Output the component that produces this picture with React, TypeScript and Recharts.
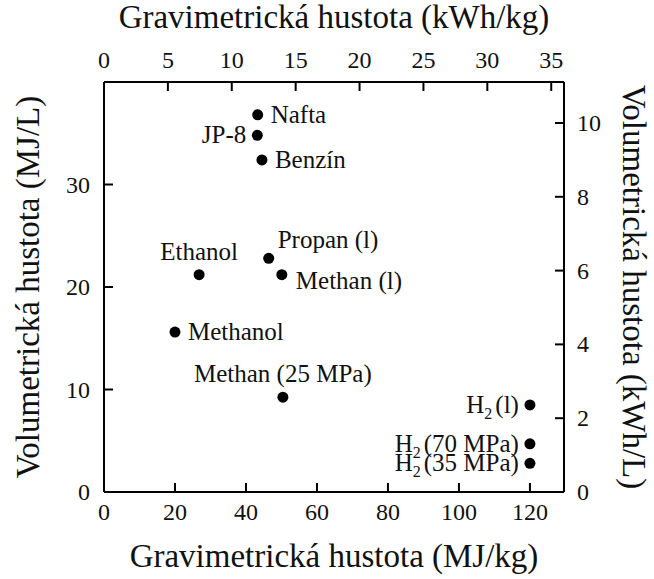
import React from "react";
import { ScatterChart, Scatter, XAxis, YAxis } from "recharts";

// fuels
const fuels = [
  "Nafta",
  "JP-8",
  "Benzín",
  "Propan (l)",
  "Ethanol",
  "Methan (l)",
  "Methanol",
  "Methan (25 MPa)",
  "H2 (l)",
  "H2 (70 MPa)",
  "H2 (35 MPa)",
];
const gravimetric = [43.3, 43.2, 44.5, 46.4, 26.8, 50.1, 20.0, 50.4, 120, 120, 120]; // MJ/kg
const volumetric = [36.8, 34.8, 32.4, 22.8, 21.2, 21.2, 15.6, 9.25, 8.5, 4.7, 2.8]; // MJ/L

// where each label sits relative to its dot
const labelSide = [
  "right",
  "left",
  "right",
  "aboveRight",
  "above",
  "belowRight",
  "right",
  "above",
  "left",
  "left",
  "left",
];

const bottomTicks = [0, 20, 40, 60, 80, 100, 120];
const topTicks = [0, 5, 10, 15, 20, 25, 30, 35];
const leftTicks = [0, 10, 20, 30];
const rightTicks = [0, 2, 4, 6, 8, 10];

const MJ_PER_KWH = 3.6;
const X_MAX = 129.6;
const Y_MAX = 40;

const FONT = "'Liberation Serif', 'Times New Roman', serif";
const TICK_LEN = 9;
const LABEL_SIZE = 25;

const points = fuels.map((name, i) => ({
  name,
  x: gravimetric[i],
  y: volumetric[i],
  side: labelSide[i],
}));

type Side = "top" | "bottom" | "left" | "right";

function AxisTick(props: any) {
  const { x, y, payload, side } = props as { x: number; y: number; payload: { value: number }; side: Side };
  const v = payload.value;
  let line = { x1: x, y1: y, x2: x, y2: y };
  let tx = x;
  let ty = y;
  let anchor: "start" | "middle" | "end" = "middle";
  if (side === "bottom") {
    line = { x1: x, y1: y, x2: x, y2: y - TICK_LEN };
    ty = y + 28;
  } else if (side === "top") {
    line = { x1: x, y1: y, x2: x, y2: y + TICK_LEN };
    ty = y - 14;
  } else if (side === "left") {
    line = { x1: x, y1: y, x2: x + TICK_LEN, y2: y };
    tx = x - 14;
    ty = y + 8;
    anchor = "end";
  } else {
    line = { x1: x, y1: y, x2: x - TICK_LEN, y2: y };
    tx = x + 13;
    ty = y + 8;
    anchor = "start";
  }
  return (
    <g>
      <line {...line} stroke="#000" strokeWidth={2} />
      <text x={tx} y={ty} textAnchor={anchor} fontSize={24} fontFamily={FONT} fill="#111">
        {v}
      </text>
    </g>
  );
}

function FuelLabel({ name, x, y, anchor }: { name: string; x: number; y: number; anchor: string }) {
  if (name.startsWith("H2")) {
    const rest = name.slice(2).trim();
    return (
      <text x={x} y={y} textAnchor={anchor as any} fontSize={LABEL_SIZE} fontFamily={FONT} fill="#111">
        H
        <tspan fontSize={16} dy={6}>
          2
        </tspan>
        <tspan dy={-6} dx={3}>
          {rest}
        </tspan>
      </text>
    );
  }
  return (
    <text x={x} y={y} textAnchor={anchor as any} fontSize={LABEL_SIZE} fontFamily={FONT} fill="#111">
      {name}
    </text>
  );
}

function FuelDot(props: any) {
  const { cx, cy, payload } = props;
  if (cx == null || cy == null) return null;
  let lx = cx + 13;
  let ly = cy + 8;
  let anchor = "start";
  switch (payload.side) {
    case "left":
      lx = cx - 11;
      anchor = "end";
      break;
    case "above":
      lx = cx;
      ly = cy - 15;
      anchor = "middle";
      break;
    case "aboveRight":
      lx = cx + 9;
      ly = cy - 10;
      break;
    case "belowRight":
      lx = cx + 14;
      ly = cy + 14;
      break;
  }
  return (
    <g>
      <circle cx={cx} cy={cy} r={5.5} fill="#000" />
      <FuelLabel name={payload.name} x={lx} y={ly} anchor={anchor} />
    </g>
  );
}

const titleStyle = { fontSize: 33, fontFamily: FONT, fill: "#111" };

export default function App() {
  return (
    <div style={{ position: "absolute", left: 0, top: 0, background: "#fff" }}>
      <ScatterChart width={654} height={579} margin={{ top: 0, right: 0, bottom: 0, left: 0 }}>
        <XAxis
          xAxisId="bottom"
          orientation="bottom"
          type="number"
          dataKey="x"
          domain={[0, X_MAX]}
          allowDataOverflow
          ticks={bottomTicks}
          interval={0}
          height={87}
          tickSize={0}
          tickMargin={0}
          tickLine={false}
          axisLine={{ stroke: "#000", strokeWidth: 2 }}
          tick={(p: any) => <AxisTick {...p} side="bottom" />}
          label={{ value: "Gravimetrická hustota (MJ/kg)", position: "insideBottom", offset: 12, style: titleStyle }}
        />
        <XAxis
          xAxisId="top"
          orientation="top"
          type="number"
          dataKey="x"
          domain={[0, X_MAX / MJ_PER_KWH]}
          allowDataOverflow
          ticks={topTicks}
          interval={0}
          height={82}
          tickSize={0}
          tickMargin={0}
          tickLine={false}
          axisLine={{ stroke: "#000", strokeWidth: 2 }}
          tick={(p: any) => <AxisTick {...p} side="top" />}
          label={{ value: "Gravimetrická hustota (kWh/kg)", position: "insideTop", offset: 5, style: titleStyle }}
        />
        <YAxis
          yAxisId="left"
          orientation="left"
          type="number"
          dataKey="y"
          domain={[0, Y_MAX]}
          allowDataOverflow
          ticks={leftTicks}
          interval={0}
          width={104}
          tickSize={0}
          tickMargin={0}
          tickLine={false}
          axisLine={{ stroke: "#000", strokeWidth: 2 }}
          tick={(p: any) => <AxisTick {...p} side="left" />}
          label={{
            value: "Volumetrická hustota (MJ/L)",
            angle: -90,
            position: "insideLeft",
            offset: 27,
            style: { ...titleStyle, textAnchor: "middle" },
          }}
        />
        <YAxis
          yAxisId="right"
          orientation="right"
          type="number"
          dataKey="y"
          domain={[0, Y_MAX / MJ_PER_KWH]}
          allowDataOverflow
          ticks={rightTicks}
          interval={0}
          width={90}
          tickSize={0}
          tickMargin={0}
          tickLine={false}
          axisLine={{ stroke: "#000", strokeWidth: 2 }}
          tick={(p: any) => <AxisTick {...p} side="right" />}
          label={{
            value: "Volumetrická hustota (kWh/L)",
            angle: 90,
            position: "insideRight",
            offset: 19,
            style: { ...titleStyle, textAnchor: "middle" },
          }}
        />
        {/* carries the secondary (kWh) axes; draws nothing */}
        <Scatter
          data={points}
          xAxisId="top"
          yAxisId="right"
          isAnimationActive={false}
          shape={() => <g />}
        />
        <Scatter
          data={points}
          xAxisId="bottom"
          yAxisId="left"
          isAnimationActive={false}
          shape={(p: any) => <FuelDot {...p} />}
        />
      </ScatterChart>
    </div>
  );
}
